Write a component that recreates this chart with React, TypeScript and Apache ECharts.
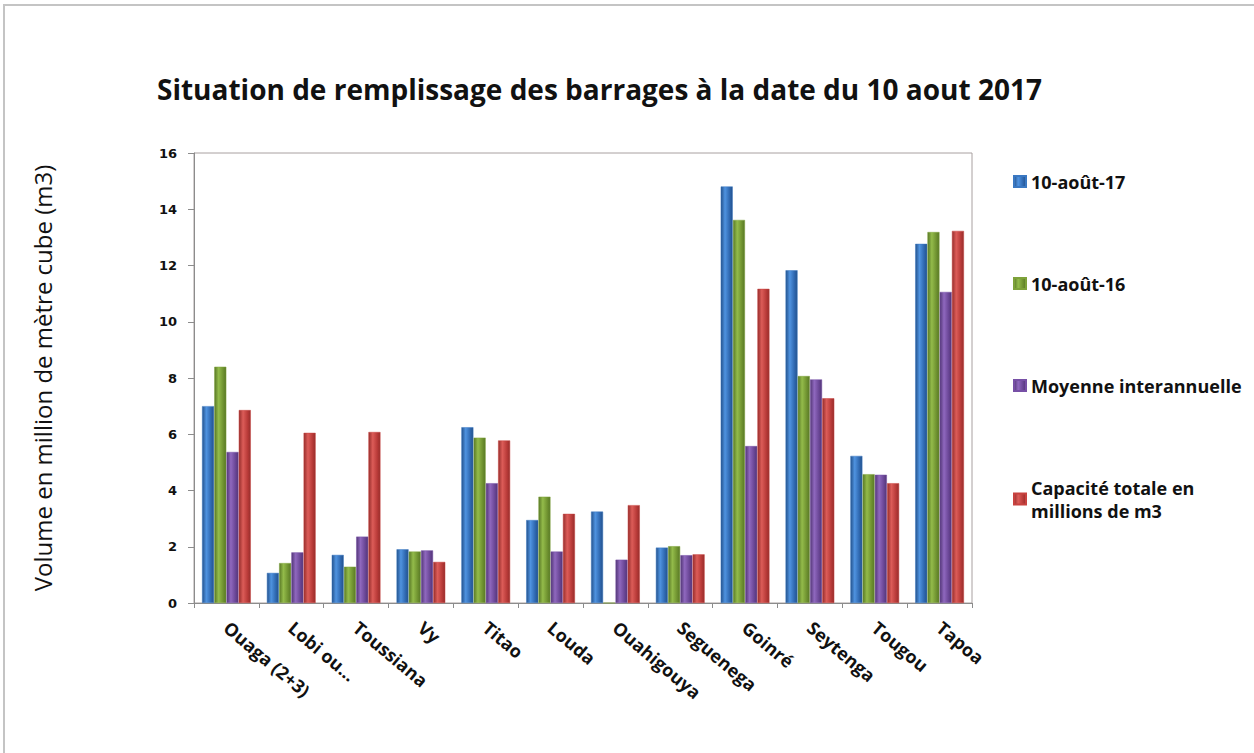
import React, { useEffect, useRef } from "react";
import * as echarts from "echarts";

const categories = ["Ouaga (2+3)", "Lobi ou...", "Toussiana", "Vy", "Titao", "Louda", "Ouahigouya", "Seguenega", "Goinré", "Seytenga", "Tougou", "Tapoa"];
const aout17 = [7.0, 1.07, 1.71, 1.91, 6.25, 2.95, 3.25, 1.97, 14.81, 11.83, 5.23, 12.77];
const aout16 = [8.4, 1.42, 1.29, 1.83, 5.88, 3.78, 0, 2.02, 13.62, 8.07, 4.58, 13.19];
const moyenne = [5.37, 1.8, 2.36, 1.87, 4.26, 1.83, 1.54, 1.7, 5.58, 7.95, 4.56, 11.06];
const capacite = [6.86, 6.05, 6.08, 1.46, 5.78, 3.17, 3.48, 1.73, 11.17, 7.28, 4.26, 13.23];
const seriesNames = ["10-août-17", "10-août-16", "Moyenne interannuelle", "Capacité totale en millions de m3"];
const yTicks = { min: 0, max: 16, interval: 2 };

const grad = (dark: string, light: string, edge: string) =>
  new echarts.graphic.LinearGradient(0, 0, 1, 0, [
    { offset: 0, color: edge },
    { offset: 0.35, color: light },
    { offset: 0.75, color: dark },
    { offset: 1, color: edge },
  ]);

export default function App() {
  const ref = useRef<HTMLDivElement>(null);
  useEffect(() => {
    if (!ref.current) return;
    const chart = echarts.init(ref.current, null, { renderer: "svg" });
    const palette = [
      { solid: "#3a78c2", g: grad("#2f68b0", "#4f93e0", "#24528c") },
      { solid: "#7ea23a", g: grad("#6f9230", "#93bb4a", "#587826") },
      { solid: "#7750a6", g: grad("#6a4696", "#8f68be", "#533677") },
      { solid: "#c8423f", g: grad("#b83a38", "#dc5c58", "#962e2c") },
    ];
    const data = [aout17, aout16, moyenne, capacite];
    chart.setOption({
      animation: false,
      backgroundColor: "#ffffff",
      title: {
        text: "Situation de remplissage des barrages à la date du 10 aout 2017",
        left: 152,
        top: 70,
        textStyle: { fontFamily: "Open Sans", fontWeight: "bold", fontSize: 28, color: "#111" },
      },
      graphic: [
        {
          type: "rect",
          shape: { x: 4, y: 5, width: 1300, height: 800 },
          style: { fill: "none", stroke: "#c4c4c4", lineWidth: 2 },
          silent: true,
        },
      ],
      legend: {
        orient: "vertical",
        left: 1008,
        top: 165,
        itemWidth: 12,
        itemHeight: 11,
        itemGap: 79,
        icon: "rect",
        data: seriesNames,
        formatter: (n: string) => (n === seriesNames[3] ? "Capacité totale en\nmillions de m3" : n),
        textStyle: { fontFamily: "Open Sans", fontWeight: "bold", fontSize: 18, color: "#111", lineHeight: 23 },
      },
      grid: { left: 194, top: 153, width: 778, height: 450, show: true, borderColor: "#a8a0a0", borderWidth: 1 },
      xAxis: {
        type: "category",
        data: categories,
        axisLine: { lineStyle: { color: "#8c8c8c" } },
        axisTick: { show: true, alignWithLabel: false, length: 5, lineStyle: { color: "#8c8c8c" } },
        axisLabel: {
          rotate: -40,
          interval: 0,
          margin: 22,
          fontFamily: "Open Sans",
          fontWeight: "bold",
          fontSize: 18,
          color: "#111",
        },
      },
      yAxis: {
        type: "value",
        min: yTicks.min,
        max: yTicks.max,
        interval: yTicks.interval,
        name: "Volume en million de mètre cube (m3)",
        nameLocation: "middle",
        nameRotate: 90,
        nameGap: 140,
        nameTextStyle: { fontFamily: "Open Sans", fontSize: 24, color: "#111" },
        splitLine: { show: false },
        axisLine: { show: true, lineStyle: { color: "#8c8c8c" } },
        axisTick: { show: true, length: 6, lineStyle: { color: "#8c8c8c" } },
        axisLabel: { fontFamily: "DejaVu Sans", fontWeight: "bold", fontSize: 13, color: "#111", margin: 17 },
      },
      series: seriesNames.map((name, i) => ({
        name,
        type: "bar",
        data: data[i],
        barWidth: 12,
        barGap: "2%",
        itemStyle: { color: palette[i].g, borderColor: palette[i].solid, borderWidth: 0.5 },
      })),
    });
    return () => chart.dispose();
  }, []);
  return <div ref={ref} style={{ position: "fixed", left: 0, top: 0, width: 1254, height: 753 }} />;
}
